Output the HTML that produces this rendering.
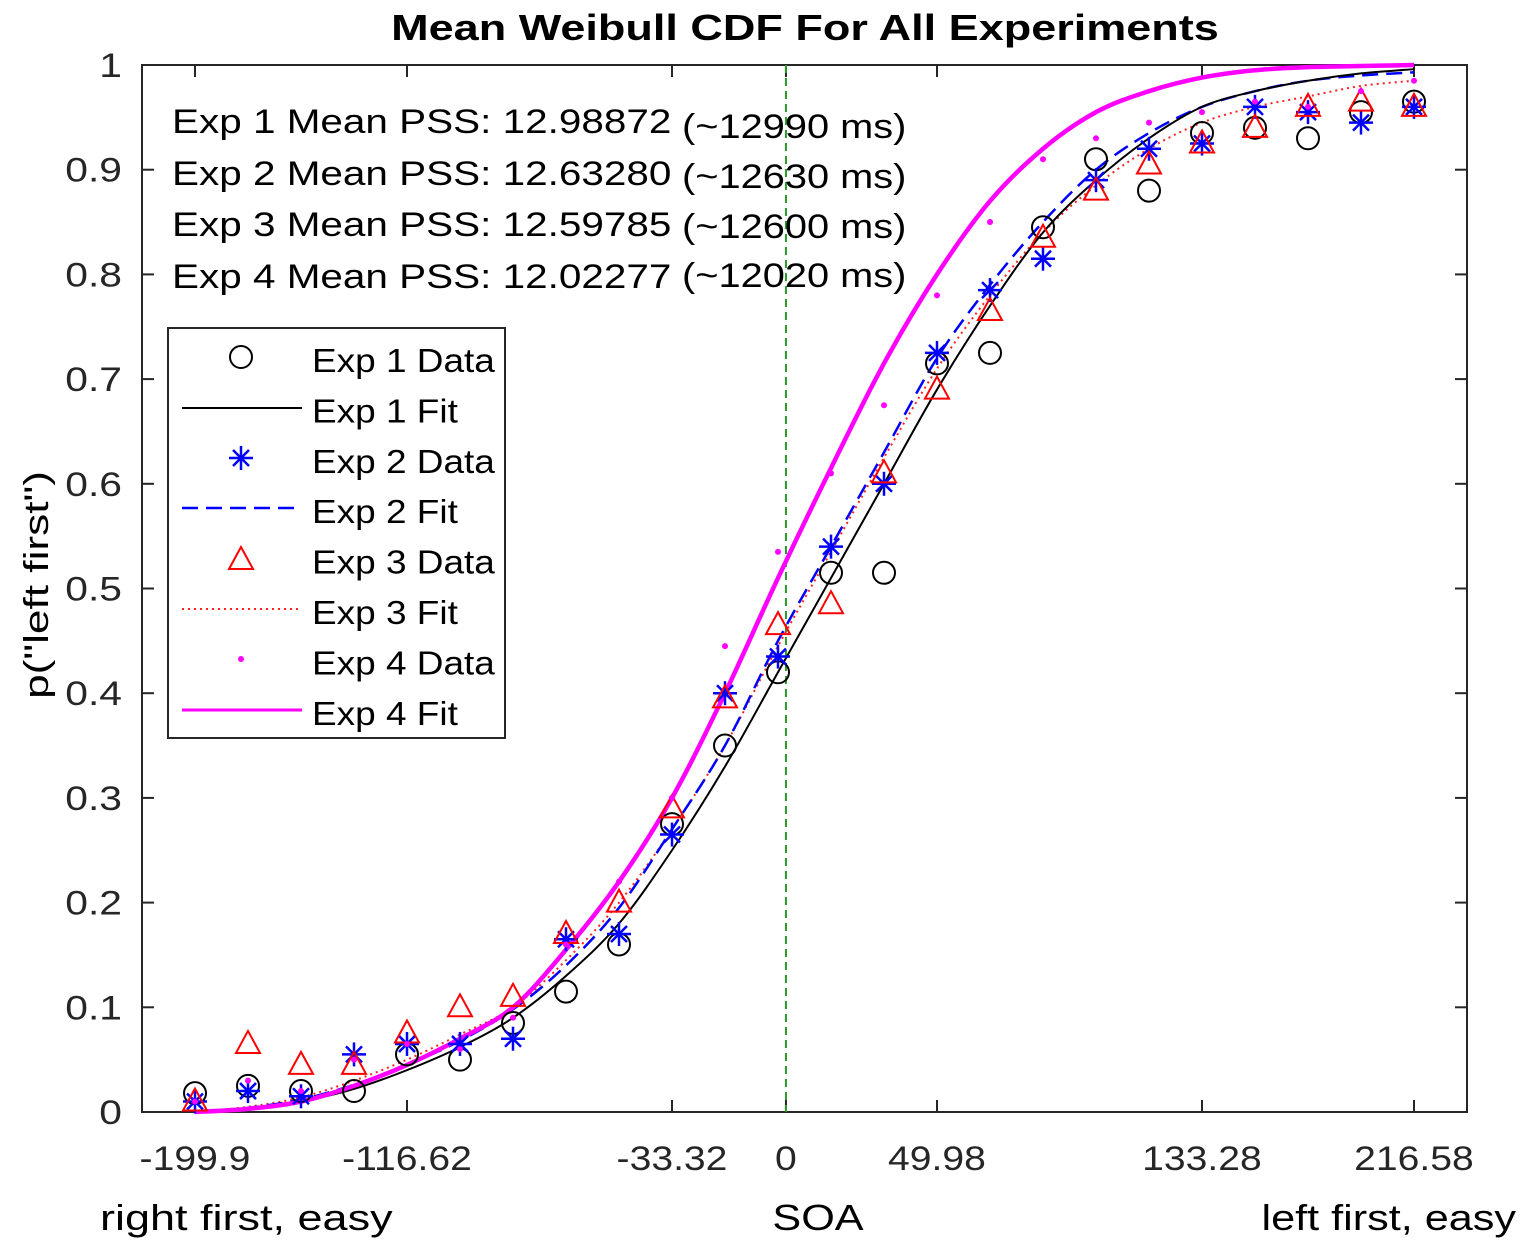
<!DOCTYPE html>
<html><head><meta charset="utf-8"><style>
body{margin:0;background:#fff;}
svg{display:block;font-family:"Liberation Sans",Arial,sans-serif;}
</style></head><body>
<svg id="chart" width="1524" height="1251">
<text x="805" y="40" font-size="36" font-weight="bold" text-anchor="middle" data-sx="1.25">Mean Weibull CDF For All Experiments</text>
<g id="axes"></g><g id="marks"></g>
<text transform="translate(48,585) rotate(-90)" font-size="34" text-anchor="middle" data-sx="1.3">p("left first")</text>
<text x="100" y="1230" font-size="36" data-sx="1.25">right first, easy</text>
<text x="818" y="1230" font-size="36" text-anchor="middle" data-sx="1.2">SOA</text>
<text x="1516" y="1230" font-size="36" text-anchor="end" data-sx="1.2">left first, easy</text>
<g font-size="34">
<text x="172" y="133" data-sx="1.19">Exp 1 Mean PSS: 12.98872</text><text x="682" y="138" data-sx="1.17">(~12990 ms)</text>
<text x="172" y="185" data-sx="1.19">Exp 2 Mean PSS: 12.63280</text><text x="682" y="188" data-sx="1.17">(~12630 ms)</text>
<text x="172" y="236" data-sx="1.19">Exp 3 Mean PSS: 12.59785</text><text x="682" y="238" data-sx="1.17">(~12600 ms)</text>
<text x="172" y="288" data-sx="1.19">Exp 4 Mean PSS: 12.02277</text><text x="682" y="287" data-sx="1.17">(~12020 ms)</text>
</g>
<g id="legend"></g>
</svg>
<script>
const xTickPos=[0,4,9,14,19,23,11.15];
const xTickLabels=["-199.9","-116.62","-33.32","49.98","133.28","216.58","0"];
const yTicks=[0,0.1,0.2,0.3,0.4,0.5,0.6,0.7,0.8,0.9,1];
const yTickLabels=["0","0.1","0.2","0.3","0.4","0.5","0.6","0.7","0.8","0.9","1"];
const pssIndex=11.15;
const exp1Data=[.018,.025,.02,.02,.055,.05,.085,.115,.16,.275,.35,.42,.515,.515,.715,.725,.845,.91,.88,.935,.94,.93,.955,.965];
const exp2Data=[.01,.02,.015,.055,.065,.065,.07,.165,.17,.265,.40,.435,.54,.60,.725,.785,.815,.89,.92,.925,.96,.955,.945,.96];
const exp3Data=[.01,.065,.045,.045,.075,.10,.11,.17,.20,.29,.395,.465,.485,.61,.69,.765,.835,.88,.905,.925,.94,.96,.965,.96];
const exp4Data=[.01,.03,.02,.05,.065,.06,.09,.16,.22,.30,.445,.535,.61,.675,.78,.85,.91,.93,.945,.955,.965,.96,.975,.985];
const exp1Fit=[0,.003,.01,.022,.04,.062,.09,.13,.18,.25,.33,.42,.51,.60,.69,.77,.84,.89,.93,.96,.975,.985,.992,.996];
const exp2Fit=[0,.004,.012,.026,.045,.068,.098,.14,.195,.27,.35,.45,.54,.63,.72,.79,.85,.90,.935,.96,.975,.985,.99,.993];
const exp3Fit=[0,.005,.014,.03,.05,.074,.10,.145,.20,.27,.35,.445,.535,.625,.71,.78,.84,.885,.92,.945,.96,.97,.98,.985];
const exp4Fit=[0,.003,.01,.025,.045,.07,.10,.155,.22,.30,.40,.51,.615,.715,.80,.87,.92,.955,.975,.988,.995,.998,.999,1];
const NS="http://www.w3.org/2000/svg";
const X0=142,X1=1467,Y0=1112,Y1=65;
const xs=i=>X0+(i+1)/25*(X1-X0);
const ys=v=>Y0-v*(Y0-Y1);
function mk(p,tag,at){const e=document.createElementNS(NS,tag);for(const k in at)e.setAttribute(k,at[k]);p.appendChild(e);return e;}
const axes=document.getElementById('axes'),marks=document.getElementById('marks'),legend=document.getElementById('legend');
const box=mk(axes,'rect',{x:X0,y:Y1,width:X1-X0,height:Y0-Y1,fill:'#fff',stroke:'#262626','stroke-width':2});


yTicks.forEach((v,i)=>{const y=ys(v);
mk(axes,'line',{x1:X0,x2:X0+12,y1:y,y2:y,stroke:'#262626','stroke-width':2});
mk(axes,'line',{x1:X1,x2:X1-12,y1:y,y2:y,stroke:'#262626','stroke-width':2});
const t=mk(axes,'text',{x:X0-20,y:y+12,'font-size':34,'text-anchor':'end',fill:'#262626','data-sx':'1.2'});t.textContent=yTickLabels[i];

});
xTickPos.forEach((p,i)=>{const x=xs(p);
mk(axes,'line',{x1:x,x2:x,y1:Y0,y2:Y0-12,stroke:'#262626','stroke-width':2});
mk(axes,'line',{x1:x,x2:x,y1:Y1,y2:Y1+12,stroke:'#262626','stroke-width':2});
const t=mk(axes,'text',{x:x,y:Y0+58,'font-size':34,'text-anchor':'middle',fill:'#262626','data-sx':'1.15'});t.textContent=xTickLabels[i];

});
const pl=mk(marks,'line',{x1:xs(pssIndex),x2:xs(pssIndex),y1:Y1,y2:Y0,stroke:'#2a9a2a','stroke-width':2,'stroke-dasharray':'8,5'});


function smooth(arr){const pts=arr.map((v,i)=>[xs(i),ys(v)]);let d=`M${pts[0][0]},${pts[0][1]}`;
for(let i=0;i<pts.length-1;i++){const p0=pts[Math.max(0,i-1)],p1=pts[i],p2=pts[i+1],p3=pts[Math.min(pts.length-1,i+2)];
d+=` C${p1[0]+(p2[0]-p0[0])/6},${p1[1]+(p2[1]-p0[1])/6} ${p2[0]-(p3[0]-p1[0])/6},${p2[1]-(p3[1]-p1[1])/6} ${p2[0]},${p2[1]}`;}return d;}
function fit(arr,st,name){const p=mk(marks,'path',Object.assign({d:smooth(arr),fill:'none'},st));

}
fit(exp3Fit,{stroke:'#ff2020','stroke-width':2,'stroke-dasharray':'2,4'},'exp3-fit');
fit(exp2Fit,{stroke:'#0000ff','stroke-width':2.5,'stroke-dasharray':'16,8'},'exp2-fit');
fit(exp1Fit,{stroke:'#000','stroke-width':2},'exp1-fit');
fit(exp4Fit,{stroke:'#ff00ff','stroke-width':4.5},'exp4-fit');
function circle(g,x,y){mk(g,'circle',{cx:x,cy:y,r:11,fill:'none',stroke:'#000','stroke-width':2});}
function star(g,x,y){const s={stroke:'#0000ff','stroke-width':2.5};
mk(g,'line',Object.assign({x1:x-12,x2:x+12,y1:y,y2:y},s));mk(g,'line',Object.assign({x1:x,x2:x,y1:y-12,y2:y+12},s));
mk(g,'line',Object.assign({x1:x-8,x2:x+8,y1:y-8,y2:y+8},s));mk(g,'line',Object.assign({x1:x-8,x2:x+8,y1:y+8,y2:y-8},s));}
function tri(g,x,y){mk(g,'polygon',{points:`${x},${y-13} ${x-12},${y+9} ${x+12},${y+9}`,fill:'none',stroke:'#ff0000','stroke-width':2});}
function dot(g,x,y){mk(g,'circle',{cx:x,cy:y,r:3,fill:'#ff00ff'});}
function series(arr,fn,name){arr.forEach((v,i)=>{const g=mk(marks,'g',{});


fn(g,xs(i),ys(v));});}
series(exp1Data,circle,'exp1-data-point');
series(exp2Data,star,'exp2-data-point');
series(exp3Data,tri,'exp3-data-point');
series(exp4Data,dot,'exp4-data-point');
mk(legend,'rect',{x:168,y:328,width:337,height:410,fill:'#fff',stroke:'#262626','stroke-width':2});
const entries=[["Exp 1 Data",g=>circle(g,241,357)],["Exp 1 Fit",g=>mk(g,'line',{x1:182,x2:302,y1:408,y2:408,stroke:'#000','stroke-width':2})],
["Exp 2 Data",g=>star(g,241,458)],["Exp 2 Fit",g=>mk(g,'line',{x1:182,x2:302,y1:508,y2:508,stroke:'#0000ff','stroke-width':2.5,'stroke-dasharray':'16,8'})],
["Exp 3 Data",g=>tri(g,241,560)],["Exp 3 Fit",g=>mk(g,'line',{x1:182,x2:302,y1:609,y2:609,stroke:'#ff2020','stroke-width':2,'stroke-dasharray':'2,4'})],
["Exp 4 Data",g=>dot(g,241,659)],["Exp 4 Fit",g=>mk(g,'line',{x1:182,x2:302,y1:710,y2:710,stroke:'#ff00ff','stroke-width':3})]];
entries.forEach((e,i)=>{const g=mk(legend,'g',{});


e[1](g);const t=mk(g,'text',{x:312,y:372+i*50.4,'font-size':33,'data-sx':'1.12'});t.textContent=e[0];});
document.querySelectorAll('text[data-sx]').forEach(t=>{const w=t.getComputedTextLength()*parseFloat(t.getAttribute('data-sx'));
t.setAttribute('textLength',w);t.setAttribute('lengthAdjust','spacingAndGlyphs');});
</script>
</body></html>
